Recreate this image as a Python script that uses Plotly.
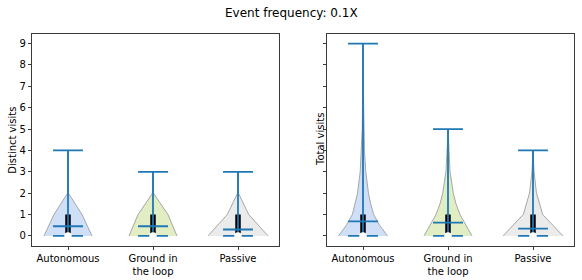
import plotly.graph_objects as go

# ---------------- data ----------------
categories = ["Autonomous", "Ground in<br>the loop", "Passive"]
positions = [1, 2, 3]

# left panel: Distinct visits
distinct_min = [0, 0, 0]
distinct_max = [4, 3, 3]
distinct_mean = [0.45, 0.45, 0.30]
distinct_median = [0, 0, 0]
distinct_q1 = [0, 0, 0]
distinct_q3 = [1, 1, 1]

# right panel: Total visits
total_min = [0, 0, 0]
total_max = [9, 5, 4]
total_mean = [0.68, 0.62, 0.34]
total_median = [0, 0, 0]
total_q1 = [0, 0, 0]
total_q3 = [1, 1, 1]

# violin density profiles (value grid, half-width in category units)
distinct_grid = [
    [0, 1, 2, 3, 4],
    [0, 1, 2, 3],
    [0, 1, 2, 3],
]
distinct_halfwidth = [
    [0.282, 0.165, 0.005, 0.004, 0.0],
    [0.282, 0.176, 0.005, 0.0],
    [0.353, 0.126, 0.005, 0.0],
]
total_grid = [
    [0, 0.5, 1, 1.5, 2, 3, 4, 5, 6, 7, 8, 9],
    [0, 0.5, 1, 1.5, 2, 3, 4, 5],
    [0, 1, 2, 3, 4],
]
total_halfwidth = [
    [0.288, 0.195, 0.125, 0.09, 0.064, 0.033, 0.017, 0.009, 0.006, 0.004, 0.002, 0.001],
    [0.282, 0.212, 0.141, 0.094, 0.062, 0.024, 0.012, 0.002],
    [0.353, 0.114, 0.041, 0.012, 0.0],
]

fill_colors = ["#d0dff8", "#e1eec4", "#ebebeb"]
edge_color = "#a6a6a6"
line_blue = "#1f77b4"
cap_half = 0.176

fig = go.Figure()


def add_panel(xa, ya, mins, maxs, means, medians, q1s, q3s, grids, hws):
    for i, p in enumerate(positions):
        g = grids[i]
        hw = hws[i]
        xs = [p - w for w in hw] + [p + w for w in reversed(hw)]
        ys = list(g) + list(reversed(g))
        fig.add_trace(go.Scatter(
            x=xs, y=ys, xaxis=xa, yaxis=ya, mode="lines", fill="toself",
            fillcolor=fill_colors[i], line=dict(color=edge_color, width=1),
            hoverinfo="skip", showlegend=False))
    for i, p in enumerate(positions):
        # IQR bar (black)
        fig.add_trace(go.Scatter(
            x=[p, p], y=[q1s[i], q3s[i]], xaxis=xa, yaxis=ya, mode="lines",
            line=dict(color="black", width=5.5), hoverinfo="skip", showlegend=False))
        # extrema bar
        fig.add_trace(go.Scatter(
            x=[p, p], y=[mins[i], maxs[i]], xaxis=xa, yaxis=ya, mode="lines",
            line=dict(color=line_blue, width=1.8), hoverinfo="skip", showlegend=False))
        # caps and mean line
        for v in (mins[i], maxs[i], means[i]):
            fig.add_trace(go.Scatter(
                x=[p - cap_half, p + cap_half], y=[v, v], xaxis=xa, yaxis=ya,
                mode="lines", line=dict(color=line_blue, width=1.8),
                hoverinfo="skip", showlegend=False))
    # medians as white dots
    fig.add_trace(go.Scatter(
        x=positions, y=medians, xaxis=xa, yaxis=ya, mode="markers",
        marker=dict(color="white", size=7.5, line=dict(width=0)),
        hoverinfo="skip", showlegend=False))


add_panel("x", "y", distinct_min, distinct_max, distinct_mean, distinct_median,
          distinct_q1, distinct_q3, distinct_grid, distinct_halfwidth)
add_panel("x2", "y2", total_min, total_max, total_mean, total_median,
          total_q1, total_q3, total_grid, total_halfwidth)

W, H = 582, 280
ytop, ybot = 34.0, 245.5
axis_common = dict(showline=True, mirror=True, linecolor="#3a3a3a", linewidth=1,
                   showgrid=False, zeroline=False, ticks="outside", ticklen=3.5,
                   tickwidth=1, tickcolor="#3a3a3a",
                   tickfont=dict(family="DejaVu Sans", size=10, color="black"))

xcommon = dict(axis_common, range=[0.58, 3.48], tickmode="array",
               tickvals=positions, ticktext=categories)
ycommon = dict(axis_common, range=[-0.45, 9.45], tickmode="linear", tick0=0, dtick=1)

fig.update_layout(
    width=W, height=H,
    margin=dict(l=0, r=0, t=0, b=0),
    paper_bgcolor="white", plot_bgcolor="white",
    font=dict(family="DejaVu Sans", size=10, color="black"),
    xaxis=dict(xcommon, domain=[32.3 / W, 278.8 / W], anchor="y"),
    yaxis=dict(ycommon, domain=[1 - ybot / H, 1 - ytop / H], anchor="x"),
    xaxis2=dict(xcommon, domain=[327.3 / W, 573.8 / W], anchor="y2"),
    yaxis2=dict(ycommon, domain=[1 - ybot / H, 1 - ytop / H], anchor="x2",
                showticklabels=False),
    annotations=[
        dict(text="Event frequency: 0.1X", x=0.5, y=1 - 13 / H, xref="paper", yref="paper",
             xanchor="center", yanchor="middle", showarrow=False,
             font=dict(family="DejaVu Sans", size=12, color="black")),
        dict(text="Distinct visits", x=11.7 / W, y=1 - 140 / H, xref="paper", yref="paper",
             xanchor="center", yanchor="middle", textangle=-90, showarrow=False,
             font=dict(family="DejaVu Sans", size=10, color="black")),
        dict(text="Total visits", x=320 / W, y=1 - 140 / H, xref="paper", yref="paper",
             xanchor="center", yanchor="middle", textangle=-90, showarrow=False,
             font=dict(family="DejaVu Sans", size=10, color="black")),
    ],
)

fig.write_html(
    "out.html",
    config={"displayModeBar": False, "staticPlot": True},
    post_script="document.body.style.margin='0';document.body.style.overflow='hidden';",
)
